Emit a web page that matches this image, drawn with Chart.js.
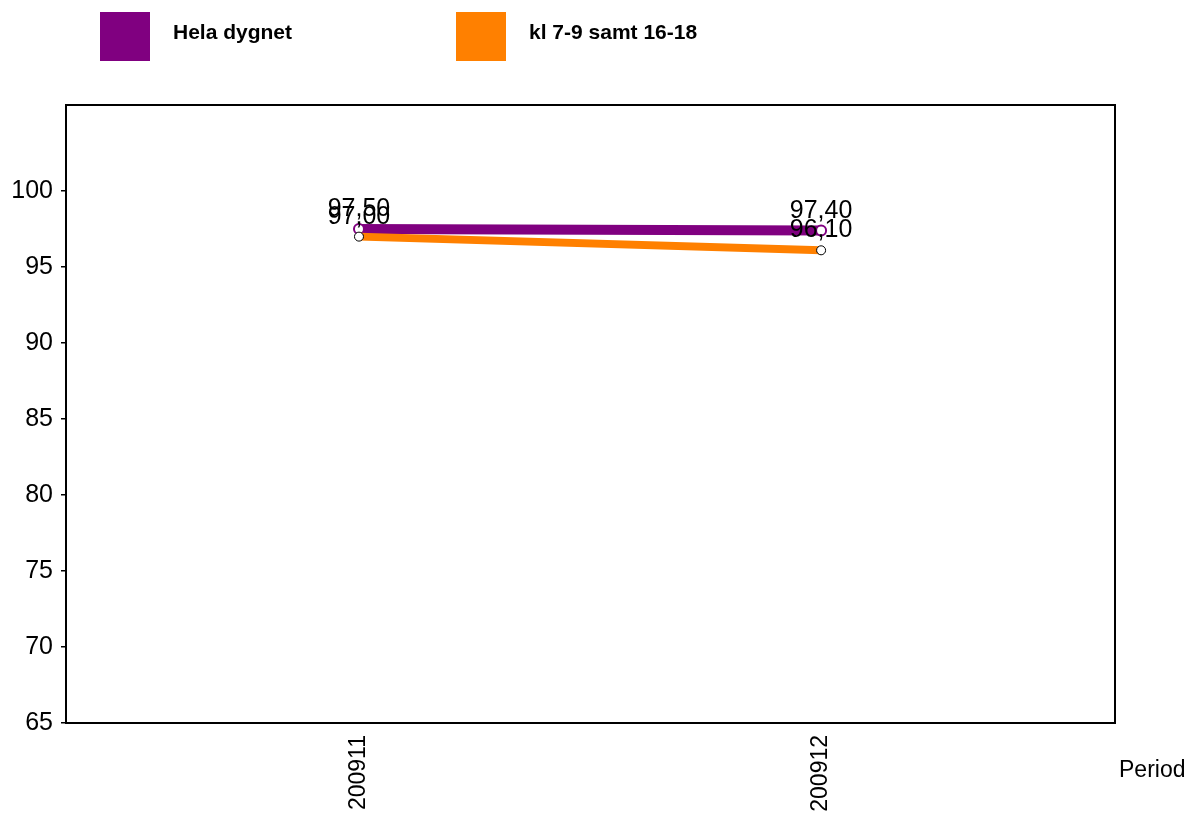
<!DOCTYPE html>
<html>
<head>
<meta charset="utf-8">
<script src="https://cdn.jsdelivr.net/npm/chart.js@4.4.1/dist/chart.umd.min.js"></script>
<style>
html,body{margin:0;padding:0;background:#fff;}
#wrap{width:1191px;height:814px;position:relative;}
</style>
</head>
<body>
<div id="wrap"><canvas id="c" width="1191" height="814"></canvas></div>
<script>
const categories = ["200911", "200912"];
const seriesNames = ["Hela dygnet", "kl 7-9 samt 16-18"];
const helaDygnet = [97.5, 97.4];
const rusning = [97.0, 96.1];
const yTicks = [65, 70, 75, 80, 85, 90, 95, 100];
const xAxisTitle = "Period";

const FONT = "'Liberation Sans', Arial, sans-serif";

function pts(arr){ return arr.map((v,i)=>({x:i,y:v})); }

const framePlugin = {
  id:'frame',
  afterDatasetsDraw(chart){
    const {ctx, chartArea:a} = chart;
    ctx.save();
    ctx.strokeStyle = '#000';
    ctx.lineWidth = 2;
    ctx.strokeRect(a.left, a.top, a.right-a.left, a.bottom-a.top);
    ctx.restore();
  }
};

const labelPlugin = {
  id:'valueLabels',
  afterDraw(chart){
    const ctx = chart.ctx;
    ctx.save();
    ctx.font = "25px " + FONT;
    ctx.fillStyle = '#000';
    ctx.textAlign = 'center';
    ctx.textBaseline = 'alphabetic';
    chart.data.datasets.forEach((ds, di)=>{
      const meta = chart.getDatasetMeta(di);
      meta.data.forEach((p, i)=>{
        const v = ds.data[i].y;
        ctx.fillText(v.toFixed(2).replace('.', ','), p.x, p.y - 13);
      });
    });
    // legend
    const legendX = [100, 456];
    chart.data.datasets.forEach((ds, di)=>{
      ctx.fillStyle = ds.borderColor;
      ctx.fillRect(legendX[di], 12, 50, 49);
      ctx.fillStyle = '#000';
      ctx.font = "bold 21px " + FONT;
      ctx.textAlign = 'left';
      ctx.textBaseline = 'middle';
      ctx.fillText(ds.label, legendX[di] + 73, 33);
    });
    // x axis title
    ctx.font = "23px " + FONT;
    ctx.textAlign = 'left';
    ctx.textBaseline = 'alphabetic';
    ctx.fillText(xAxisTitle, 1119, 777);
    ctx.restore();
  }
};

new Chart(document.getElementById('c'), {
  type:'line',
  data:{
    datasets:[
      {
        label: seriesNames[0],
        data: pts(helaDygnet),
        borderColor:'#800080',
        borderWidth:10,
        pointRadius:5,
        pointBorderWidth:2,
        pointBorderColor:'#800080',
        pointBackgroundColor:'#ffffff',
        order:2
      },
      {
        label: seriesNames[1],
        data: pts(rusning),
        borderColor:'#FF8000',
        borderWidth:8,
        pointRadius:4.5,
        pointBorderWidth:1,
        pointBorderColor:'#000000',
        pointBackgroundColor:'#ffffff',
        order:1
      }
    ]
  },
  options:{
    responsive:false,
    animation:false,
    devicePixelRatio:1,
    layout:{padding:{left:0, top:105, right:76, bottom:0}},
    plugins:{legend:{display:false}, tooltip:{enabled:false}},
    scales:{
      x:{
        type:'linear',
        min:-0.634,
        max:1.636,
        afterBuildTicks(s){ s.ticks = categories.map((c,i)=>({value:i})); },
        afterFit(s){ s.height = 91; },
        grid:{display:false},
        border:{display:false},
        ticks:{
          autoSkip:false,
          minRotation:90,
          maxRotation:90,
          padding:4,
          color:'#000',
          font:{family:FONT, size:23},
          callback(v){ return categories[v]; }
        }
      },
      y:{
        min:65,
        max:105.66,
        afterBuildTicks(s){ s.ticks = yTicks.map(v=>({value:v})); },
        afterFit(s){ s.width = 66; },
        grid:{display:true, drawOnChartArea:false, drawTicks:true, tickLength:5, color:'#000', lineWidth:1.5},
        border:{display:false},
        ticks:{
          padding:8,
          color:'#000',
          font:{family:FONT, size:25}
        }
      }
    }
  },
  plugins:[framePlugin, labelPlugin]
});
</script>
</body>
</html>
